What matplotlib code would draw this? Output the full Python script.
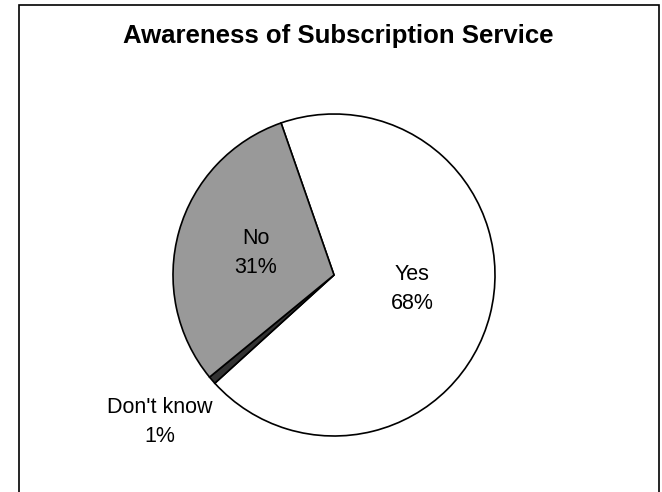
import matplotlib.pyplot as plt
from matplotlib.patches import Rectangle

plt.rcParams['font.family'] = ['Liberation Sans', 'DejaVu Sans']

title = 'Awareness of Subscription Service'
labels = ['Yes', "Don't know", 'No']
shares = [68.6, 0.8, 30.6]
shown = ['68%', '1%', '31%']
colors = ['#ffffff', '#333333', '#999999']

W, H = 662, 492
fig = plt.figure(figsize=(W / 100, H / 100), dpi=100)
ax = fig.add_axes([0, 0, 1, 1])

# frame round the chart (bottom edge is cut off in the original)
ax.add_patch(Rectangle((19, -10), 640, H - 5 + 10, fill=False,
                       edgecolor='black', linewidth=1.2))

cx, cy, r = 334, H - 275, 161
ax.pie(shares, colors=colors, startangle=109.2, counterclock=False,
       center=(cx, cy), radius=r, frame=True,
       wedgeprops=dict(edgecolor='black', linewidth=1.2))
ax.set_xlim(0, W)
ax.set_ylim(0, H)
ax.set_aspect('equal')
ax.axis('off')

label_pos = {'Yes': (412, H - 289), "Don't know": (160, H - 422), 'No': (256, H - 253)}
for lab, txt in zip(labels, shown):
    x, y = label_pos[lab]
    ax.text(x, y, f'{lab}\n{txt}', ha='center', va='center', fontsize=15.5,
            linespacing=1.5)

ax.text(338, H - 36, title, ha='center', va='center', fontsize=18.5,
        fontweight='bold')

fig.savefig('out.png', dpi=100)
